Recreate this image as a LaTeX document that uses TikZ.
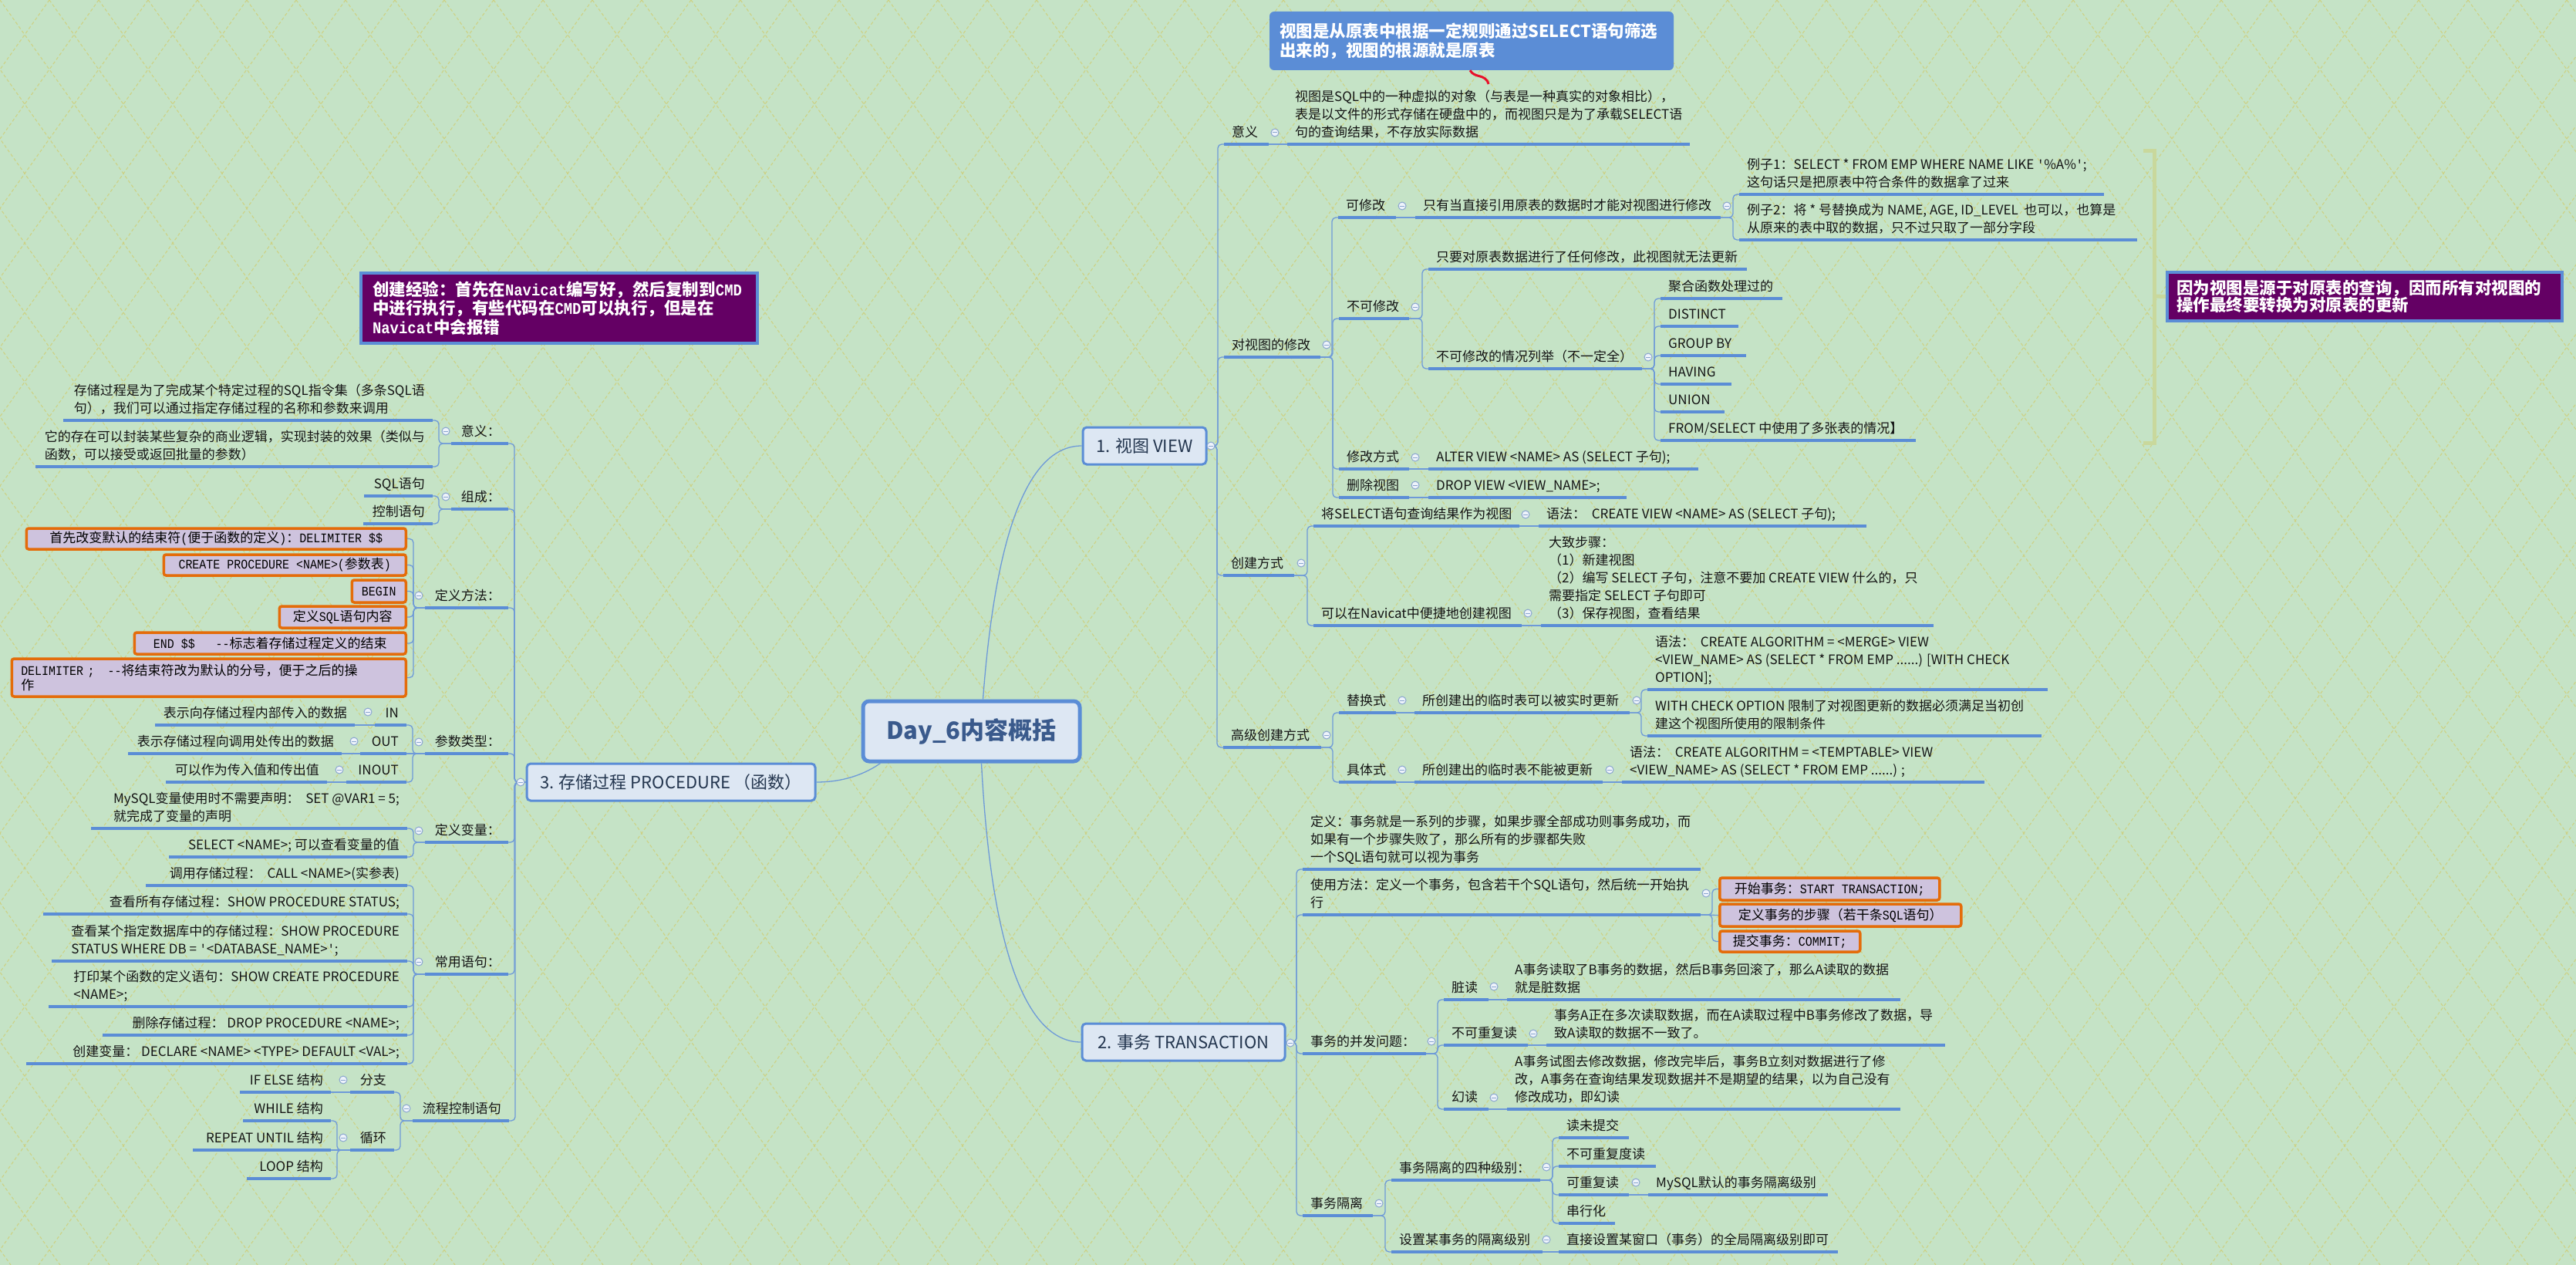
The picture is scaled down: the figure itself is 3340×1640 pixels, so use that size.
\documentclass[tikz,border=0pt]{standalone}
\usepackage{fontspec}
\setmainfont{Noto Sans CJK SC}
\setmonofont{Liberation Mono}[Scale=1.0,FakeStretch=0.88]
\definecolor{bgc}{HTML}{C5E3C6}
\definecolor{patc}{HTML}{CDD285}
\definecolor{ulc}{HTML}{5B8DD6}
\definecolor{connc}{HTML}{6E9AD8}
\definecolor{txt}{HTML}{141414}
\definecolor{boxf}{HTML}{DDE7F3}
\definecolor{mtxt}{HTML}{24364F}
\definecolor{ctrtxt}{HTML}{3A5A8C}
\definecolor{orng}{HTML}{E46C0A}
\definecolor{lav}{HTML}{CEC3DE}
\definecolor{purp}{HTML}{640064}
\definecolor{brk}{HTML}{C9D89C}
\definecolor{sqc}{HTML}{E8102A}
\definecolor{colf}{HTML}{EEF3FB}
\definecolor{cold}{HTML}{8AA6CF}
% right-side topic: name, xl, xr, y(underline), text
\newcommand\RT[5]{%
  \node[topic, anchor=south west] (#1) at (#2,#4) {#5};
  \coordinate (#1e) at (#3,#4);
  \draw[ul] (#1.south west) -- (#1e);}
% left-side topic: name, xl, xr, y(underline), text
\newcommand\LT[5]{%
  \node[topic, anchor=south east] (#1) at (#3,#4) {#5};
  \coordinate (#1w) at (#2,#4);
  \draw[ul] (#1w) -- (#1.south east);}
\newcommand\cR[2]{\draw[conn] (#1e) -| ([xshift=-8pt]#2.south west) -- (#2.south west);}
\newcommand\cS[2]{\draw[conn] (#1e) -- (#2.south west);}
\newcommand\cL[2]{\draw[conn] (#1w) -| ([xshift=8pt]#2.south east) -- (#2.south east);}
\newcommand\cSL[2]{\draw[conn] (#1w) -- (#2.south east);}
\newcommand\cRoot[2]{\draw[conn] (#1.east) -| ([xshift=-8pt]#2.south west) -- (#2.south west);}
\newcommand\cRootL[2]{\draw[conn] (#1.west) -| ([xshift=8pt]#2.south east) -- (#2.south east);}
\newcommand\cBox[2]{\draw[conn] (#1e) -| ([xshift=-8pt]#2.west) -- (#2.west);}
\newcommand\cBoxL[2]{\draw[conn] (#1w) -| ([xshift=8pt]#2.east) -- (#2.east);}
\begin{document}
\begin{tikzpicture}[x=1pt,y=-1pt,
  topic/.style={inner xsep=10pt, inner ysep=2pt, align=left, font=\fontsize{17}{23}\selectfont, text=txt, execute at end node=\strut},
  ul/.style={draw=ulc, line width=3.5pt},
  conn/.style={draw=connc, line width=1.3pt, rounded corners=5pt},
  pat/.style={draw=patc, line width=1.1pt, dash pattern=on 4pt off 3pt},
  mainbox/.style={draw=ulc, line width=3pt, fill=boxf, rounded corners=5pt, font=\fontsize{22}{26}\selectfont, text=mtxt, inner sep=0pt},
  obox/.style={draw=orng, line width=3.5pt, fill=lav, rounded corners=3pt, inner xsep=12pt, inner ysep=2pt, font=\fontsize{17}{19}\selectfont, text=black, align=left},
  pbox/.style={draw=ulc, line width=4pt, fill=purp, text=white, align=left},
  colc/.style={draw=cold, fill=colf, line width=1pt},
  colm/.style={draw=cold, line width=1pt},
  brkl/.style={draw=brk, line width=5pt}]
\useasboundingbox (0,0) rectangle (3340,1640);
\fill[bgc] (0,0) rectangle (3340,1640);
\begin{scope}
\clip (0,0) rectangle (3340,1640);
\foreach \i in {-19,...,53} {\draw[pat] (\i*64,0) -- ++(1166,1640);}
\foreach \i in {0,...,72} {\draw[pat] (\i*64,0) -- ++(-1166,1640);}
\end{scope}

% ---------- main boxes ----------
\node[mainbox, line width=5pt, rounded corners=8pt, minimum width=281pt, minimum height=78pt, font=\bfseries\fontsize{31}{34}\selectfont, text=ctrtxt] (ctr) at (1259.5,948) {Day\_6内容概括};
\node[mainbox, minimum width=160pt, minimum height=48pt] (view) at (1484,578) {1. 视图 VIEW};
\node[mainbox, minimum width=263pt, minimum height=48pt] (trans) at (1534.5,1351) {2. 事务 TRANSACTION};
\node[mainbox, minimum width=374pt, minimum height=48pt] (proc) at (870,1014) {3. 存储过程 PROCEDURE （函数）};

% ---------- callouts ----------
\node[fill=ulc, rounded corners=6pt, minimum width=524pt, minimum height=76pt, text width=498pt, inner xsep=13pt, align=left, text=white, font=\bfseries\fontsize{21.5}{25}\selectfont] (note) at (1908,53) {视图是从原表中根据一定规则通过SELECT语句筛选\\出来的，视图的根源就是原表};
\coordinate (sqend) at (1930,109);
\draw[draw=sqc, line width=3pt] ([xshift=-2pt]note.south) .. controls (1912,102) and (1926,95) .. (sqend);
\node[pbox, minimum width=514pt, minimum height=91pt, text width=484pt, inner xsep=15pt, font=\bfseries\fontsize{21.5}{24.5}\selectfont] (pl) at (725,399.5) {创建经验：首先在{\ttfamily Navicat}编写好，然后复制到{\ttfamily CMD}\\中进行执行，有些代码在{\ttfamily CMD}可以执行，但是在\\{\ttfamily Navicat}中会报错};
\node[pbox, minimum width=512pt, minimum height=63pt, text width=488pt, inner xsep=12pt, font=\bfseries\fontsize{21.5}{22.5}\selectfont] (pr) at (3066,384.5) {因为视图是源于对原表的查询，因而所有对视图的\\操作最终要转换为对原表的更新};
\draw[brkl] (2779,196) -- (2793,196) -- (2793,574) -- (2779,574);
\coordinate (brm) at (2793,384);
\draw[brkl] (brm) -- (pr.west);

% ---------- 1. VIEW ----------
\RT{v1}{1587}{1645}{187}{意义}
\RT{v1a}{1669}{2191}{187}{视图是SQL中的一种虚拟的对象（与表是一种真实的对象相比），\\表是以文件的形式存储在硬盘中的，而视图只是为了承载SELECT语\\句的查询结果，不存放实际数据}
\RT{v2}{1587}{1712}{463}{对视图的修改}
\RT{v2a}{1735}{1810}{282}{可修改}
\RT{v2a1}{1835}{2231}{282}{只有当直接引用原表的数据时才能对视图进行修改}
\RT{ex1}{2255}{2728}{252}{例子1：SELECT * FROM EMP WHERE NAME LIKE {\ttfamily'}\%A\%{\ttfamily'};\\这句话只是把原表中符合条件的数据拿了过来}
\RT{ex2}{2255}{2771}{311}{例子2：将 * 号替换成为 NAME, AGE, ID\_LEVEL\ \ 也可以，也算是\\从原来的表中取的数据，只不过只取了一部分字段}
\RT{v2b}{1736}{1827}{413}{不可修改}
\RT{v2b1}{1852}{2265}{349}{只要对原表数据进行了任何修改，此视图就无法更新}
\RT{v2b2}{1852}{2129}{478}{不可修改的情况列举（不一定全）}
\RT{nf1}{2153}{2311}{387}{聚合函数处理过的}
\RT{nf2}{2153}{2254}{423}{DISTINCT}
\RT{nf3}{2153}{2264}{461}{GROUP BY}
\RT{nf4}{2153}{2245}{498}{HAVING}
\RT{nf5}{2153}{2236}{534}{UNION}
\RT{nf6}{2153}{2484}{571}{FROM/SELECT 中使用了多张表的情况】}
\RT{v2c}{1736}{1827}{608}{修改方式}
\RT{alter}{1852}{2202}{608}{ALTER VIEW <NAME> AS (SELECT 子句);}
\RT{v2d}{1736}{1827}{645}{删除视图}
\RT{drop}{1852}{2109}{645}{DROP VIEW <VIEW\_NAME>;}
\RT{v3}{1586}{1678}{746}{创建方式}
\RT{v3a}{1703}{1970}{682}{将SELECT语句查询结果作为视图}
\RT{syn1}{1995}{2420}{682}{语法：\ \ CREATE VIEW <NAME> AS (SELECT 子句);}
\RT{v3b}{1703}{1973}{811}{可以在Navicat中便捷地创建视图}
\RT{steps}{1998}{2507}{811}{大致步骤：\\（1）新建视图\\（2）编写 SELECT 子句，注意不要加 CREATE VIEW 什么的，只\\需要指定 SELECT 子句即可\\（3）保存视图，查看结果}
\RT{v4}{1586}{1713}{969}{高级创建方式}
\RT{v4a}{1736}{1810}{924}{替换式}
\RT{v4a1}{1834}{2113}{924}{所创建出的临时表可以被实时更新}
\RT{merge}{2136}{2655}{894}{语法：\ \ CREATE ALGORITHM = <MERGE> VIEW\\<VIEW\_NAME> AS (SELECT * FROM EMP ......) [WITH CHECK\\OPTION];}
\RT{wco}{2136}{2647}{954}{WITH CHECK OPTION 限制了对视图更新的数据必须满足当初创\\建这个视图所使用的限制条件}
\RT{v4b}{1736}{1810}{1014}{具体式}
\RT{v4b1}{1834}{2078}{1014}{所创建出的临时表不能被更新}
\RT{temp}{2103}{2573}{1014}{语法：\ \ CREATE ALGORITHM = <TEMPTABLE> VIEW\\<VIEW\_NAME> AS (SELECT * FROM EMP ......) ;}

% ---------- 2. TRANSACTION ----------
\RT{t1}{1689}{2205}{1127}{定义：事务就是一系列的步骤，如果步骤全部成功则事务成功，而\\如果有一个步骤失败了，那么所有的步骤都失败\\一个SQL语句就可以视为事务}
\RT{t2}{1689}{2205}{1186}{使用方法：定义一个事务，包含若干个SQL语句，然后统一开始执\\行}
\node[obox, anchor=west, minimum width=285pt, minimum height=29pt] (ob1) at (2228,1152.5) {开始事务：{\ttfamily START TRANSACTION;}};
\node[obox, anchor=west, minimum width=313pt, minimum height=29pt] (ob2) at (2228,1186.5) {定义事务的步骤（若干条{\ttfamily SQL}语句）};
\node[obox, anchor=west, minimum width=182pt, minimum height=27pt] (ob3) at (2228,1220.5) {提交事务：{\ttfamily COMMIT;}};
\RT{t3}{1689}{1849}{1366}{事务的并发问题：}
\RT{dirty}{1872}{1930}{1296}{脏读}
\RT{dirtyT}{1954}{2464}{1296}{A事务读取了B事务的数据，然后B事务回滚了，那么A读取的数据\\就是脏数据}
\RT{nonrep}{1872}{1981}{1355}{不可重复读}
\RT{nonrepT}{2005}{2522}{1355}{事务A正在多次读取数据，而在A读取过程中B事务修改了数据，导\\致A读取的数据不一致了。}
\RT{phantom}{1872}{1930}{1438}{幻读}
\RT{phantomT}{1954}{2464}{1438}{A事务试图去修改数据，修改完毕后，事务B立刻对数据进行了修\\改，A事务在查询结果发现数据并不是期望的结果，以为自己没有\\修改成功，即幻读}
\RT{t4}{1689}{1780}{1576}{事务隔离}
\RT{iso4}{1804}{1997}{1530}{事务隔离的四种级别：}
\RT{l1}{2021}{2112}{1475}{读未提交}
\RT{l2}{2021}{2147}{1512}{不可重复度读}
\RT{l3}{2021}{2112}{1549}{可重复读}
\RT{mysqldef}{2137}{2370}{1549}{MySQL默认的事务隔离级别}
\RT{l4}{2021}{2094}{1586}{串行化}
\RT{setiso}{1804}{2000}{1623}{设置某事务的隔离级别}
\RT{setisoT}{2021}{2383}{1623}{直接设置某窗口（事务）的全局隔离级别即可}

% ---------- 3. PROCEDURE ----------
\LT{p1}{585}{659}{575}{意义：}
\LT{p1a}{82}{561}{545}{存储过程是为了完成某个特定过程的SQL指令集（多条SQL语\\句），我们可以通过指定存储过程的名称和参数来调用}
\LT{p1b}{46}{561}{605}{它的存在可以封装某些复杂的商业逻辑，实现封装的效果（类似与\\函数，可以接受或返回批量的参数）}
\LT{p2}{585}{659}{660}{组成：}
\LT{sql}{472}{561}{643}{SQL语句}
\LT{ctrl}{471}{561}{679}{控制语句}
\LT{p3}{551}{659}{788}{定义方法：}
\node[obox, anchor=east, minimum width=492pt, minimum height=27pt] (lb1) at (528,698.5) {首先改变默认的结束符{\ttfamily (}便于函数的定义{\ttfamily )}：{\ttfamily DELIMITER \$\$}};
\node[obox, anchor=east, minimum width=314pt, minimum height=27pt] (lb2) at (528,732.5) {{\ttfamily CREATE PROCEDURE <NAME>(}参数表{\ttfamily )}};
\node[obox, anchor=east, minimum width=70pt, minimum height=29pt] (lb3) at (528,766.5) {{\ttfamily BEGIN}};
\node[obox, anchor=east, minimum width=164pt, minimum height=28pt] (lb4) at (528,800) {定义{\ttfamily SQL}语句内容};
\node[obox, anchor=east, minimum width=352pt, minimum height=28pt] (lb5) at (528,834) {{\ttfamily END \$\$\ \ \ --}标志着存储过程定义的结束};
\node[obox, anchor=east, minimum width=511pt, minimum height=49pt, text width=487pt] (lb6) at (528,878.5) {{\ttfamily DELIMITER ;\ \ \ --}将结束符改为默认的分号，便于之后的操\\作};
\LT{p4}{551}{659}{977}{参数类型：}
\LT{pin}{486}{527}{940}{IN}
\LT{pind}{201}{460}{940}{表示向存储过程内部传入的数据}
\LT{pout}{467}{527}{977}{OUT}
\LT{poutd}{166}{443}{977}{表示存储过程向调用处传出的数据}
\LT{pio}{449}{527}{1014}{INOUT}
\LT{piod}{215}{424}{1014}{可以作为传入值和传出值}
\LT{p5}{551}{659}{1092}{定义变量：}
\LT{var1}{118}{528}{1074}{MySQL变量使用时不需要声明：\ \ SET @VAR1 = 5;\\就完成了变量的声明}
\LT{var2}{219}{528}{1111}{SELECT <NAME>; 可以查看变量的值}
\LT{p6}{551}{659}{1263}{常用语句：}
\LT{c1}{189}{528}{1148}{调用存储过程：\ \ CALL <NAME>(实参表)}
\LT{c2}{56}{528}{1185}{查看所有存储过程：SHOW PROCEDURE STATUS;}
\LT{c3}{67}{528}{1246}{查看某个指定数据库中的存储过程：SHOW PROCEDURE\\STATUS WHERE DB = {\ttfamily'}<DATABASE\_NAME>{\ttfamily'};}
\LT{c4}{63}{528}{1305}{打印某个函数的定义语句：SHOW CREATE PROCEDURE\\<NAME>;}
\LT{c5}{133}{528}{1342}{删除存储过程： DROP PROCEDURE <NAME>;}
\LT{c6}{34}{528}{1379}{创建变量： DECLARE <NAME> <TYPE> DEFAULT <VAL>;}
\LT{p7}{535}{660}{1453}{流程控制语句}
\LT{br}{454}{511}{1416}{分支}
\LT{ifelse}{311}{429}{1416}{IF ELSE 结构}
\LT{lp}{454}{511}{1491}{循环}
\LT{lwhile}{315}{429}{1453}{WHILE 结构}
\LT{lrepeat}{250}{429}{1491}{REPEAT UNTIL 结构}
\LT{lloop}{320}{429}{1528}{LOOP 结构}

% ---------- connectors ----------
\draw[conn] ([xshift=15pt]ctr.north) .. controls (1290,700) and (1330,578) .. (view.west);
\draw[conn] ([xshift=13pt]ctr.south) .. controls (1285,1230) and (1330,1351) .. (trans.west);
\draw[conn] ([xshift=-118pt]ctr.south) .. controls (1115,1008) and (1085,1014) .. (proc.east);

\cRoot{view}{v1} \cRoot{view}{v2} \cRoot{view}{v3} \cRoot{view}{v4}
\cS{v1}{v1a}
\cR{v2}{v2a} \cR{v2}{v2b} \cR{v2}{v2c} \cR{v2}{v2d}
\cS{v2a}{v2a1}
\cR{v2a1}{ex1} \cR{v2a1}{ex2}
\cR{v2b}{v2b1} \cR{v2b}{v2b2}
\cR{v2b2}{nf1} \cR{v2b2}{nf2} \cR{v2b2}{nf3} \cR{v2b2}{nf4} \cR{v2b2}{nf5} \cR{v2b2}{nf6}
\cS{v2c}{alter} \cS{v2d}{drop}
\cR{v3}{v3a} \cR{v3}{v3b}
\cS{v3a}{syn1} \cS{v3b}{steps}
\cR{v4}{v4a} \cR{v4}{v4b}
\cS{v4a}{v4a1}
\cR{v4a1}{merge} \cR{v4a1}{wco}
\cS{v4b}{v4b1} \cS{v4b1}{temp}

\cRoot{trans}{t1} \cRoot{trans}{t2} \cRoot{trans}{t3} \cRoot{trans}{t4}
\cBox{t2}{ob1} \draw[conn] (t2e) -- (ob2.west); \cBox{t2}{ob3}
\cR{t3}{dirty} \cR{t3}{nonrep} \cR{t3}{phantom}
\cS{dirty}{dirtyT} \cS{nonrep}{nonrepT} \cS{phantom}{phantomT}
\cR{t4}{iso4} \cR{t4}{setiso}
\cR{iso4}{l1} \cR{iso4}{l2} \cR{iso4}{l3} \cR{iso4}{l4}
\cS{l3}{mysqldef}
\cS{setiso}{setisoT}

\cRootL{proc}{p1} \cRootL{proc}{p2} \cRootL{proc}{p3} \cRootL{proc}{p4} \cRootL{proc}{p5} \cRootL{proc}{p6} \cRootL{proc}{p7}
\cL{p1}{p1a} \cL{p1}{p1b}
\cL{p2}{sql} \cL{p2}{ctrl}
\cBoxL{p3}{lb1} \cBoxL{p3}{lb2} \cBoxL{p3}{lb3} \cBoxL{p3}{lb4} \cBoxL{p3}{lb5} \cBoxL{p3}{lb6}
\cL{p4}{pin} \cSL{p4}{pout} \cL{p4}{pio}
\cSL{pin}{pind} \cSL{pout}{poutd} \cSL{pio}{piod}
\cL{p5}{var1} \cL{p5}{var2}
\cL{p6}{c1} \cL{p6}{c2} \cL{p6}{c3} \cL{p6}{c4} \cL{p6}{c5} \cL{p6}{c6}
\cL{p7}{br} \cL{p7}{lp}
\cSL{br}{ifelse}
\cL{lp}{lwhile} \cSL{lp}{lrepeat} \cL{lp}{lloop}

% ---------- collapse markers ----------
\foreach \cx/\cy in {1570/578, 1653/172, 1720/447, 1818/267, 2239/267, 1835/398, 2137/463, 1835/593, 1835/629, 1687/730, 1978/667, 1981/795, 1720/953, 1818/908, 2122/908, 1818/998, 2087/998, 1673/1352, 2212/1158, 1856/1350, 1937/1279, 1988/1340, 1937/1423, 1788/1560, 2005/1513, 2121/1533, 2005/1607, 675/1014, 578/559, 578/644, 543/772, 543/962, 477/923, 459/961, 440/998, 543/1077, 543/1247, 527/1437, 445/1400, 445/1475}
{\draw[colc] (\cx,\cy) circle (5pt); \draw[colm] (\cx-2.6,\cy) -- (\cx+2.6,\cy);}
\end{tikzpicture}
\end{document}
